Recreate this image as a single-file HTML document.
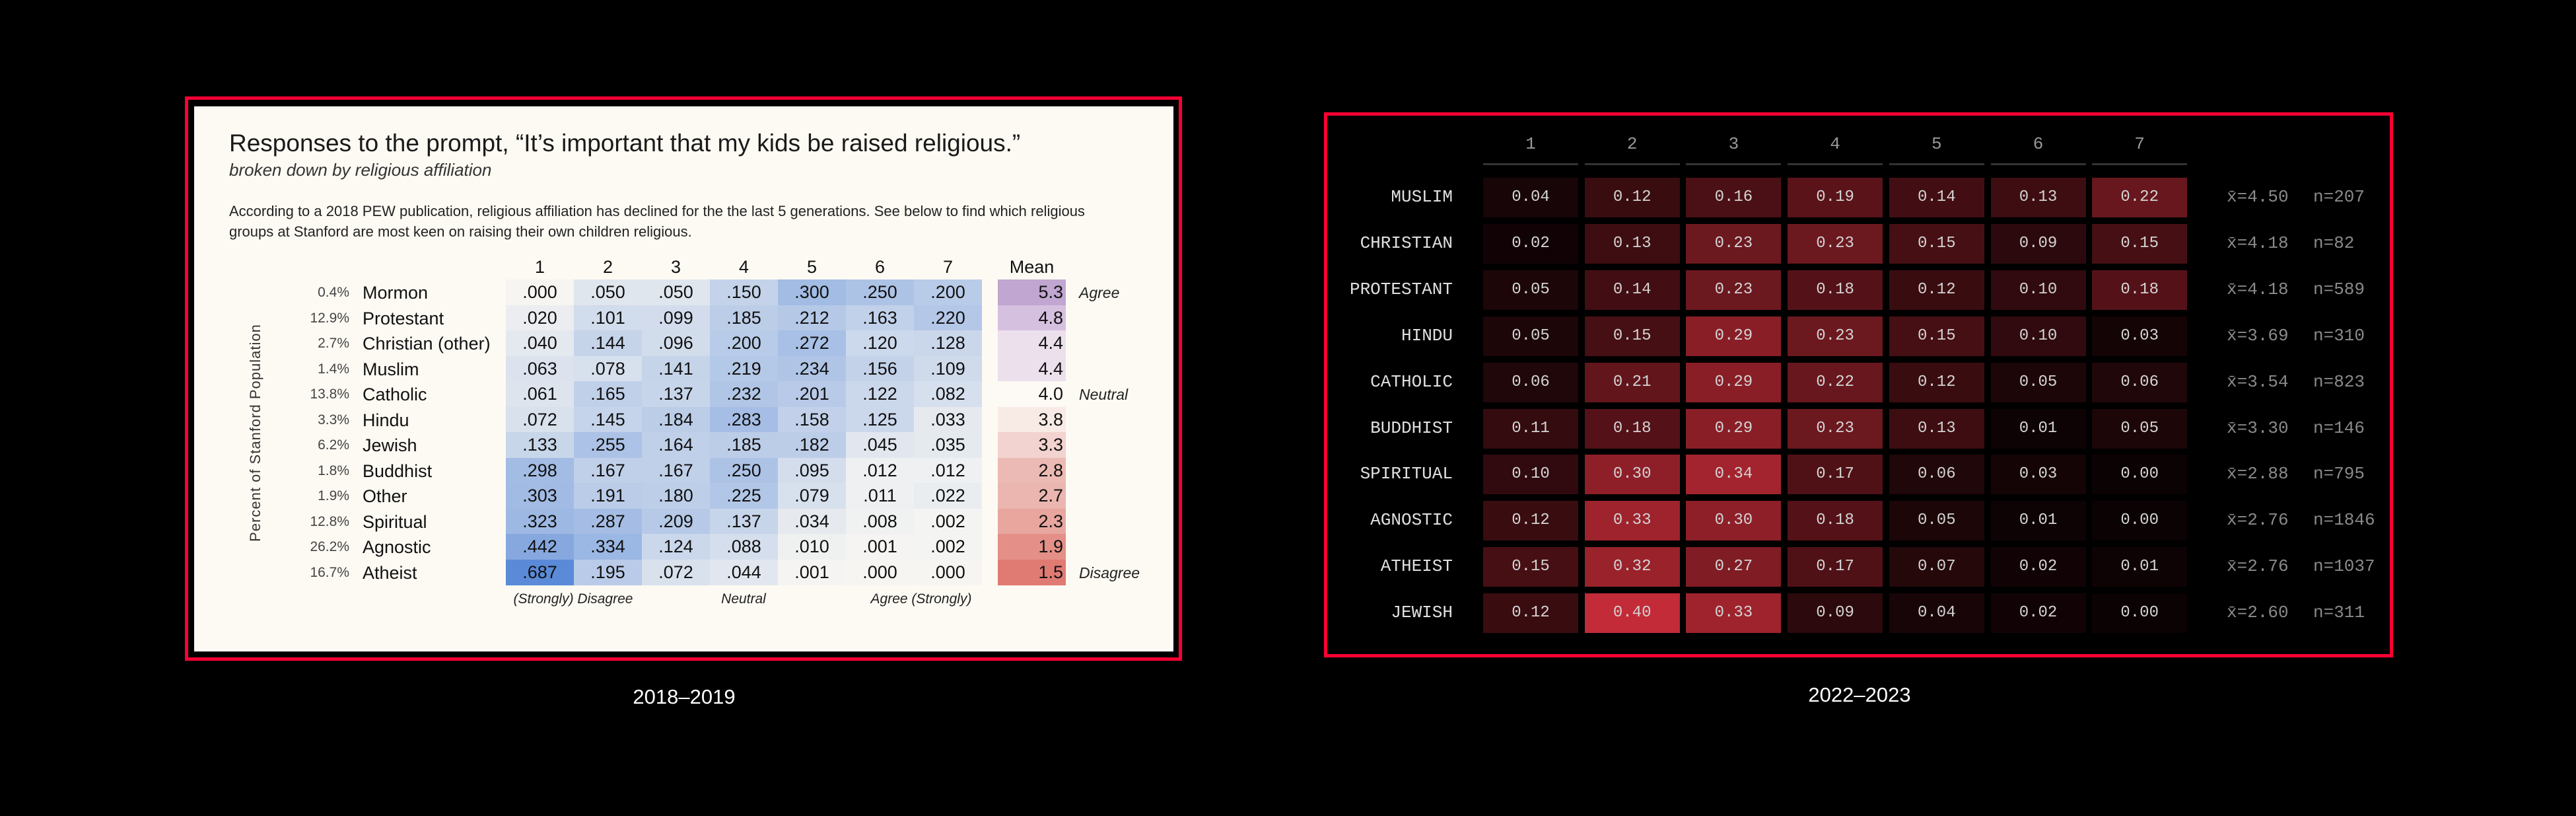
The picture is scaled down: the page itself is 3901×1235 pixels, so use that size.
<!DOCTYPE html>
<html><head><meta charset="utf-8"><style>
html,body{margin:0;padding:0;background:#000;}
body{width:3901px;height:1235px;position:relative;overflow:hidden;font-family:"Liberation Sans",sans-serif;}
.a{position:absolute;white-space:nowrap;}
.m{font-family:"Liberation Mono","DejaVu Sans Mono",monospace;}
</style></head><body>
<div class="a" style="left:280px;top:146px;width:1500px;height:844px;border:5px solid #ff0033;"></div>
<div class="a" style="left:294px;top:161px;width:1483px;height:825px;background:#fdfaf3;"></div>
<div class="a" style="left:347px;top:196px;font-size:37px;color:#1a1a1a;">Responses to the prompt, “It’s important that my kids be raised religious.”</div>
<div class="a" style="left:347px;top:242px;font-size:26px;color:#333;font-style:italic;">broken down by religious affiliation</div>
<div class="a" style="left:347px;top:304px;font-size:22px;color:#222;line-height:31px;">According to a 2018 PEW publication, religious affiliation has declined for the the last 5 generations. See below to find which religious<br>groups at Stanford are most keen on raising their own children religious.</div>
<div class="a" style="left:387px;top:655px;font-size:22px;color:#333;letter-spacing:1px;transform:translate(-50%,-50%) rotate(-90deg);">Percent of Stanford Population</div>
<div id="L"></div>
<div class="a" style="left:1036px;top:1055px;transform:translate(-50%,-50%);font-size:31px;color:#fff;">2018–2019</div>

<div class="a" style="left:2005px;top:170px;width:1609px;height:815px;border:5px solid #ff0033;"></div>
<div id="R"></div>
<div class="a" style="left:2816px;top:1052px;transform:translate(-50%,-50%);font-size:31px;color:#fff;">2022–2023</div>
<script>
function hx(c){return [parseInt(c.substr(1,2),16),parseInt(c.substr(3,2),16),parseInt(c.substr(5,2),16)];}
function mix(a,b,t){a=hx(a);b=hx(b);return 'rgb('+a.map((v,i)=>Math.round(v+(b[i]-v)*t)).join(',')+')';}
var h='';
var names=[["0.4%","Mormon",[0,.05,.05,.15,.3,.25,.2],"5.3","#c0a6d0","Agree"],
["12.9%","Protestant",[.02,.101,.099,.185,.212,.163,.22],"4.8","#d6c0e0",""],
["2.7%","Christian (other)",[.04,.144,.096,.2,.272,.12,.128],"4.4","#ece0ec",""],
["1.4%","Muslim",[.063,.078,.141,.219,.234,.156,.109],"4.4","#ece0ec",""],
["13.8%","Catholic",[.061,.165,.137,.232,.201,.122,.082],"4.0","#fdf9f5","Neutral"],
["3.3%","Hindu",[.072,.145,.184,.283,.158,.125,.033],"3.8","#f8ebe6",""],
["6.2%","Jewish",[.133,.255,.164,.185,.182,.045,.035],"3.3","#f2d3cf",""],
["1.8%","Buddhist",[.298,.167,.167,.25,.095,.012,.012],"2.8","#ecbab4",""],
["1.9%","Other",[.303,.191,.18,.225,.079,.011,.022],"2.7","#ebb6b0",""],
["12.8%","Spiritual",[.323,.287,.209,.137,.034,.008,.002],"2.3","#e8a69f",""],
["26.2%","Agnostic",[.442,.334,.124,.088,.01,.001,.002],"1.9","#e48f87",""],
["16.7%","Atheist",[.687,.195,.072,.044,.001,0,0],"1.5","#e07b73","Disagree"]];
for(var c=0;c<7;c++){h+='<div class="a" style="left:'+(766+c*103)+'px;width:103px;text-align:center;top:389px;font-size:27px;color:#111;">'+(c+1)+'</div>';}
h+='<div class="a" style="left:1511px;width:103px;text-align:center;top:389px;font-size:27px;color:#111;">Mean</div>';
names.forEach(function(r,i){var y=423+i*38.5;
h+='<div class="a" style="left:400px;width:129px;text-align:right;top:'+(y+8)+'px;font-size:21px;color:#444;">'+r[0]+'</div>';
h+='<div class="a" style="left:549px;top:'+(y+5)+'px;font-size:27px;color:#111;">'+r[1]+'</div>';
r[2].forEach(function(v,c){var t=Math.pow(v/0.687,0.75);
var s=v.toFixed(3).replace(/^0/,'');
h+='<div class="a" style="left:'+(766+c*103)+'px;top:'+y+'px;width:103px;height:39px;background:'+mix('#f6f5f2','#5a8ad8',t)+';text-align:center;line-height:39px;font-size:27px;color:#111;">'+s+'</div>';});
h+='<div class="a" style="left:1511px;top:'+y+'px;width:103px;height:39px;background:'+r[4]+';text-align:right;line-height:39px;font-size:27px;color:#111;box-sizing:border-box;padding-right:4px;">'+r[3]+'</div>';
if(r[5])h+='<div class="a" style="left:1634px;top:'+(y+7)+'px;font-size:23px;font-style:italic;color:#222;">'+r[5]+'</div>';});
h+='<div class="a" style="left:868px;top:895px;transform:translateX(-50%);font-size:21px;font-style:italic;color:#222;">(Strongly) Disagree</div>';
h+='<div class="a" style="left:1126px;top:895px;transform:translateX(-50%);font-size:21px;font-style:italic;color:#222;">Neutral</div>';
h+='<div class="a" style="left:1395px;top:895px;transform:translateX(-50%);font-size:21px;font-style:italic;color:#222;">Agree (Strongly)</div>';
document.getElementById('L').innerHTML=h;

var R=[["MUSLIM",[.04,.12,.16,.19,.14,.13,.22],"4.50","207"],
["CHRISTIAN",[.02,.13,.23,.23,.15,.09,.15],"4.18","82"],
["PROTESTANT",[.05,.14,.23,.18,.12,.10,.18],"4.18","589"],
["HINDU",[.05,.15,.29,.23,.15,.10,.03],"3.69","310"],
["CATHOLIC",[.06,.21,.29,.22,.12,.05,.06],"3.54","823"],
["BUDDHIST",[.11,.18,.29,.23,.13,.01,.05],"3.30","146"],
["SPIRITUAL",[.10,.30,.34,.17,.06,.03,0],"2.88","795"],
["AGNOSTIC",[.12,.33,.30,.18,.05,.01,0],"2.76","1846"],
["ATHEIST",[.15,.32,.27,.17,.07,.02,.01],"2.76","1037"],
["JEWISH",[.12,.40,.33,.09,.04,.02,0],"2.60","311"]];
h='';
for(var c=0;c<7;c++){var x=2246+c*153.7;
h+='<div class="a m" style="left:'+x+'px;width:144px;text-align:center;top:203px;font-size:26px;color:#999;">'+(c+1)+'</div>';
h+='<div class="a" style="left:'+x+'px;width:144px;top:247px;height:3px;background:#333;"></div>';}
R.forEach(function(r,i){var y=269+i*69.9;
h+='<div class="a m" style="left:2000px;width:200px;text-align:right;top:'+(y+14)+'px;font-size:26px;color:#e0e0e0;">'+r[0]+'</div>';
r[1].forEach(function(v,c){var t=Math.pow(v/0.40,1.15);
h+='<div class="a m" style="left:'+(2246+c*153.7)+'px;top:'+y+'px;width:144px;height:60px;background:'+mix('#0b0203','#c22b37',t)+';text-align:center;line-height:60px;font-size:24px;color:#d4d4d4;">'+v.toFixed(2)+'</div>';});
h+='<div class="a m" style="left:3372px;top:'+(y+14)+'px;font-size:26px;color:#8a8a8a;">x̄='+r[2]+'</div>';
h+='<div class="a m" style="left:3503px;top:'+(y+14)+'px;font-size:26px;color:#8a8a8a;">n='+r[3]+'</div>';});
document.getElementById('R').innerHTML=h;
</script>
</body></html>
